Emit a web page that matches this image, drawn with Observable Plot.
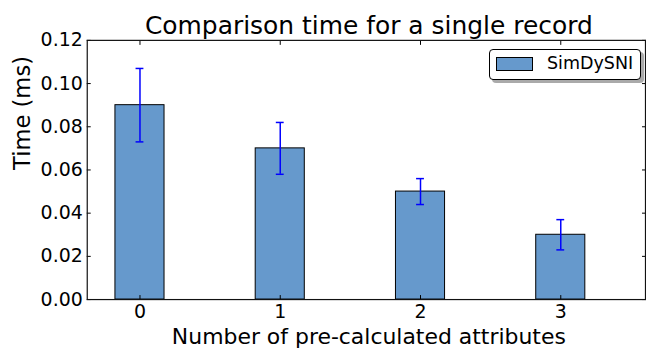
<!DOCTYPE html>
<html>
<head>
<meta charset="utf-8">
<script src="https://cdn.jsdelivr.net/npm/d3@7"></script>
<script src="https://cdn.jsdelivr.net/npm/@observablehq/plot@0.6"></script>
<style>
  html, body { margin: 0; padding: 0; background: #fff; overflow: hidden; }
  #wrap { position: relative; width: 646px; height: 350px; overflow: hidden; font-family: "DejaVu Sans", sans-serif; }
  #legend { position: absolute; left: 489px; top: 49px; width: 150px; height: 29px; border: 1px solid #000; border-radius: 4px; background: #fff; box-shadow: 3px 3px 0 #aaa; }
  #legend .patch { position: absolute; left: 6px; top: 7px; width: 35px; height: 12px; border: 1px solid #000; }
  #legend .lab { position: absolute; left: 57px; top: 3px; font-size: 17.5px; line-height: 21px; color: #000; }
</style>
</head>
<body>
<div id="wrap"></div>
<script>
const categories = [0, 1, 2, 3];
const times = [0.090, 0.070, 0.050, 0.030];
const errLow = [0.073, 0.058, 0.044, 0.023];
const errHigh = [0.107, 0.082, 0.056, 0.037];
const yTicks = [0.00, 0.02, 0.04, 0.06, 0.08, 0.10, 0.12];
const seriesName = "SimDySNI";
const title = "Comparison time for a single record";
const xLabel = "Number of pre-calculated attributes";
const yLabel = "Time (ms)";

const barColor = "#6699cc";
const halfBar = 0.175;
const halfCap = 0.028;

const data = categories.map((c, i) => ({x: c, t: times[i], lo: errLow[i], hi: errHigh[i]}));

const font = "DejaVu Sans, sans-serif";

const chart = Plot.plot({
  width: 648,
  height: 350,
  marginLeft: 87,
  marginRight: 1,
  marginTop: 40,
  marginBottom: 50,
  style: {fontFamily: font, background: "#fff", color: "#000", overflow: "visible"},
  x: {type: "linear", domain: [-0.376, 3.604], axis: null},
  y: {domain: [0, 0.12], axis: null},
  marks: [
    Plot.rectY(data, {x1: d => d.x - halfBar, x2: d => d.x + halfBar, y1: 0, y2: "t", fill: barColor, stroke: "#000", strokeWidth: 1}),
    Plot.ruleX(data, {x: "x", y1: "lo", y2: "hi", stroke: "#0000ff", strokeWidth: 1.5}),
    Plot.ruleY(data, {y: "lo", x1: d => d.x - halfCap, x2: d => d.x + halfCap, stroke: "#0000ff", strokeWidth: 1.5}),
    Plot.ruleY(data, {y: "hi", x1: d => d.x - halfCap, x2: d => d.x + halfCap, stroke: "#0000ff", strokeWidth: 1.5}),
    // inward ticks on all four sides
    Plot.axisY(yTicks, {anchor: "left", tickSize: 4, fill: "none", dx: 4, label: null, stroke: "#000"}),
    Plot.axisY(yTicks, {anchor: "right", tickSize: 4, fill: "none", dx: -4, label: null, stroke: "#000"}),
    Plot.axisX(categories, {anchor: "bottom", tickSize: 4, fill: "none", dy: -4, label: null, stroke: "#000"}),
    Plot.axisX(categories, {anchor: "top", tickSize: 4, fill: "none", dy: 4, label: null, stroke: "#000"}),
    // tick labels
    Plot.axisY(yTicks, {anchor: "left", tickSize: 0, tickPadding: 4.5, tickFormat: d3.format(".2f"), fontSize: 19, label: null}),
    Plot.axisX(categories, {anchor: "bottom", tickSize: 0, tickPadding: 5.5, tickFormat: d => String(d), fontSize: 19, label: null}),
    Plot.frame({stroke: "#111", strokeWidth: 1.2}),
    // titles
    Plot.text([title], {frameAnchor: "top", lineAnchor: "bottom", dy: -6.5, dx: 2.5, fontSize: 25, fill: "#000"}),
    Plot.text([xLabel], {frameAnchor: "bottom", lineAnchor: "bottom", dy: 44.8, dx: 2.5, fontSize: 22, fill: "#000"}),
    Plot.text([yLabel], {frameAnchor: "left", lineAnchor: "bottom", rotate: -90, dx: -57, fontSize: 22.7, fill: "#000"})
  ]
});

const wrap = document.getElementById("wrap");
wrap.appendChild(chart);

const legend = document.createElement("div");
legend.id = "legend";
const patch = document.createElement("div");
patch.className = "patch";
patch.style.background = barColor;
const lab = document.createElement("div");
lab.className = "lab";
lab.textContent = seriesName;
legend.appendChild(patch);
legend.appendChild(lab);
wrap.appendChild(legend);
</script>
</body>
</html>
